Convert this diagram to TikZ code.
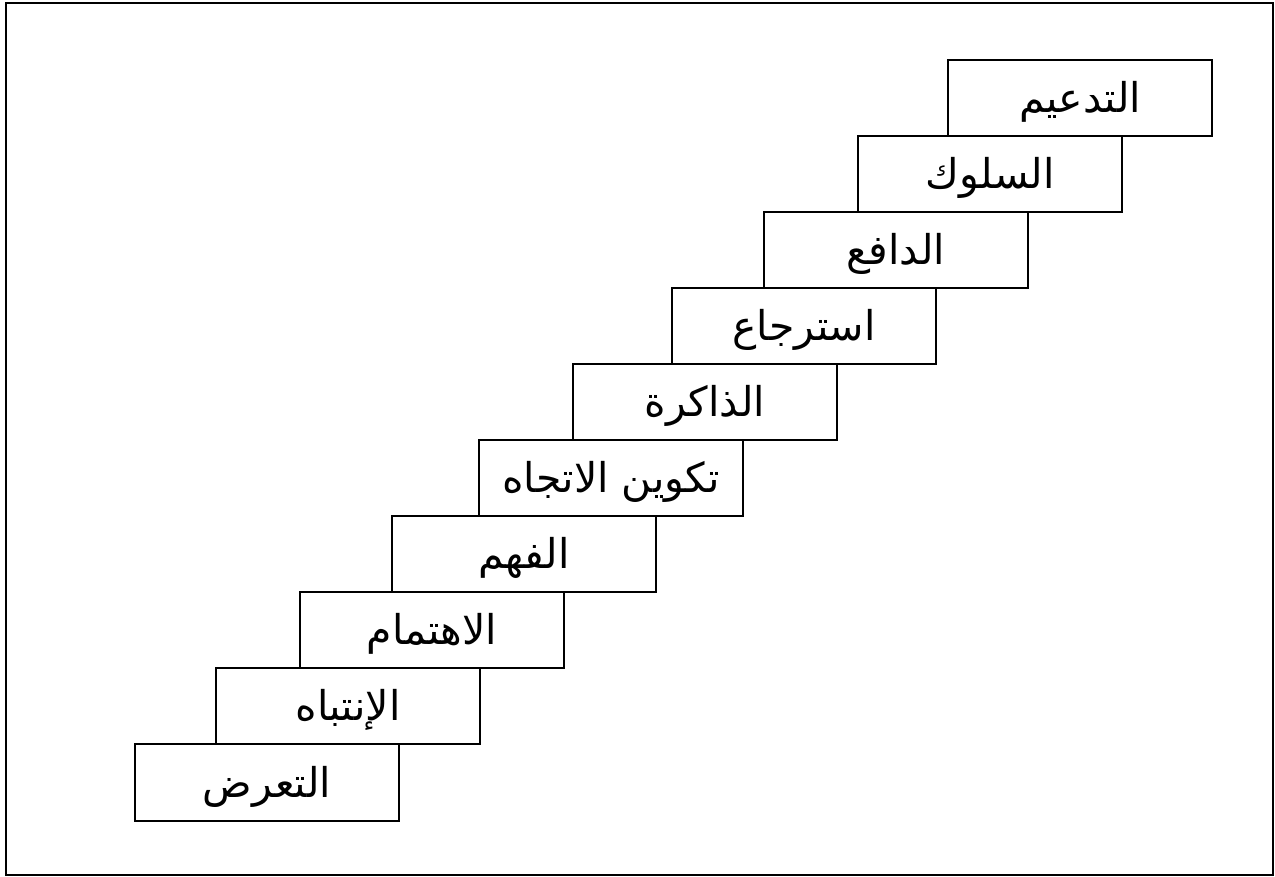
\documentclass[tikz,border=0pt]{standalone}
\usepackage{fontspec}
\newfontfamily\arabicfont[Script=Arabic]{DejaVu Sans}
\TeXXeTstate=1
\begin{document}
\begin{tikzpicture}[x=1pt,y=-1pt,
    stair/.style={draw,line width=2pt,minimum width=264pt,minimum height=76.5pt,
      inner sep=0pt,font=\arabicfont\fontsize{41}{46}\selectfont}]
  \useasboundingbox (0,0) rectangle (1275,876);
  \draw[line width=2pt] (5.5,3) rectangle (1273,874.5);
  % steps, from the bottom one up
  \foreach \x/\y/\t [count=\i] in {267/782.5/التعرض,348/706/الإنتباه,432/630/الاهتمام,
      524/554/الفهم,611/478/تكوين الاتجاه,705/402/الذاكرة,804/326/استرجاع,
      896/250/الدافع,990/174/السلوك,1080/98/التدعيم}
    \node[stair] (s\i) at (\x,\y) {\raisebox{-4pt}[\height][\depth]{\beginR\t\endR}};
\end{tikzpicture}
\end{document}
